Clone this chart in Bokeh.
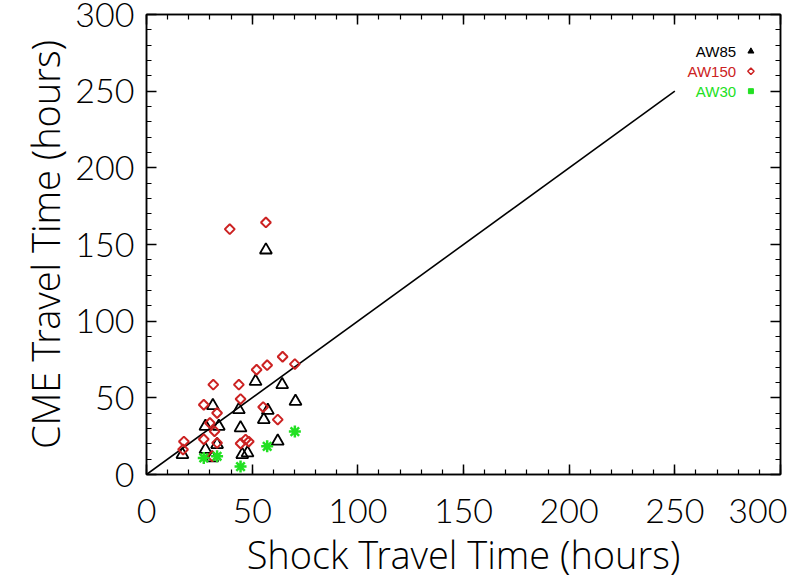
import numpy as np
from bokeh.plotting import figure
from bokeh.models import (Range1d, LinearAxis, SingleIntervalTicker, Label,
                          CustomJSTickFormatter)
from bokeh.embed import file_html
from bokeh.resources import INLINE

# ---- data ----
aw85_x = [17.0, 27.9, 27.9, 31.4, 31.1, 33.4, 34.2, 43.7, 44.5, 45.3, 47.8,
          51.6, 55.5, 57.4, 62.1, 64.2, 70.5, 56.5]
aw85_y = [13.0, 31.4, 16.3, 44.9, 10.8, 19.5, 31.4, 42.3, 30.4, 13.0, 14.1,
          60.7, 35.8, 41.8, 21.7, 58.6, 47.7, 146.4]

aw150_x = [17.7, 17.3, 27.1, 27.1, 31.6, 33.4, 30.0, 32.2, 33.4, 31.1, 43.7,
           44.5, 44.5, 46.9, 48.4, 52.1, 57.1, 55.2, 64.4, 70.2, 62.1, 39.4, 56.5]
aw150_y = [21.5, 16.3, 45.5, 23.0, 58.6, 40.1, 33.6, 28.2, 20.6, 11.9, 58.6,
           49.2, 20.2, 22.8, 21.5, 68.3, 71.3, 44.0, 76.8, 72.0, 35.8, 160.0, 164.4]

aw30_x = [27.1, 33.4, 44.5, 57.1, 70.2]
aw30_y = [10.8, 11.9, 5.2, 18.4, 28.0]

line_x = [0, 250]
line_y = [0, 250]

x_title = "Shock Travel Time (hours)"
y_title = "CME Travel Time (hours)"
series_names = ["AW85", "AW150", "AW30"]
series_colors = ["black", "#cc2222", "#22e022"]

# positions (data space) of the in-plot key
leg_text_x = 279.0
leg_mark_x = 286.0
leg_y = [276.0, 263.0, 250.0]

TICK_FONT = "Lato Light"
TITLE_FONT = "'Open Sans Light', 'Noto Sans Light', 'Lato Light'"

p = figure(width=787, height=582, output_backend="svg", toolbar_location=None,
           x_range=Range1d(0, 300), y_range=Range1d(0, 300),
           min_border_left=146, min_border_right=7, min_border_top=14,
           min_border_bottom=107, x_axis_location=None, y_axis_location=None)
p.grid.visible = False
p.outline_line_color = "black"
p.outline_line_width = 1.5
p.background_fill_color = "white"
p.border_fill_color = "white"


def make_axis(show_labels, title=None):
    ax = LinearAxis(ticker=SingleIntervalTicker(interval=50, num_minor_ticks=5))
    ax.axis_line_width = 1.5
    ax.major_tick_line_width = 1.5
    ax.minor_tick_line_width = 1.2
    ax.major_tick_in = 10
    ax.major_tick_out = 0
    ax.minor_tick_in = 5
    ax.minor_tick_out = 0
    if show_labels:
        ax.major_label_text_font = TICK_FONT
        ax.major_label_text_font_size = "34px"
        ax.major_label_text_color = "black"
        ax.axis_label = title
        ax.axis_label_text_font = TITLE_FONT
        ax.axis_label_text_font_size = "38px"
        ax.axis_label_text_font_style = "normal"
        ax.axis_label_text_color = "black"
    else:
        ax.formatter = CustomJSTickFormatter(code="return ''")
        ax.major_label_standoff = 0
    return ax


xb = make_axis(True, x_title)
xb.major_label_standoff = 24
xb.axis_label_standoff = 2
p.add_layout(xb, "below")

yl = make_axis(True, y_title)
yl.major_label_standoff = 12
yl.axis_label_standoff = 1
p.add_layout(yl, "left")

p.add_layout(make_axis(False), "above")
p.add_layout(make_axis(False), "right")

# diagonal reference line
p.line(line_x, line_y, line_color="black", line_width=1.6)

# data points
p.scatter(aw85_x, aw85_y, marker="triangle", size=12, fill_color=None,
          line_color=series_colors[0], line_width=1.8)
p.scatter(aw150_x, aw150_y, marker="square", angle=np.pi / 4, size=7,
          fill_color=None, line_color=series_colors[1], line_width=2)
p.scatter(aw30_x, aw30_y, marker="asterisk", size=12,
          line_color=series_colors[2], line_width=2.5)

# in-plot key: label text left, symbol right
for name, col, yy in zip(series_names, series_colors, leg_y):
    p.add_layout(Label(x=leg_text_x, y=yy, text=name, text_align="right",
                       text_baseline="middle", text_font="Liberation Sans",
                       text_font_size="15px", text_color=col))

p.scatter([leg_mark_x], [leg_y[0]], marker="triangle", size=6,
          fill_color="black", line_color="black")
p.scatter([leg_mark_x], [leg_y[1]], marker="square", angle=np.pi / 4, size=4.5,
          fill_color=None, line_color=series_colors[1], line_width=1.5)
p.scatter([leg_mark_x], [leg_y[2]], marker="square", size=5,
          fill_color=series_colors[2], line_color=series_colors[2])

open("out.html", "w").write(file_html(p, INLINE))
